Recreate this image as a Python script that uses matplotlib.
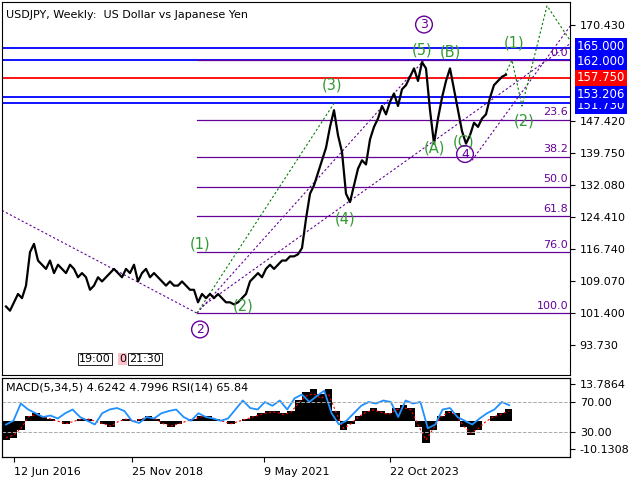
import matplotlib
matplotlib.use("Agg")
import matplotlib.pyplot as plt
import numpy as np

price = [103,102,104,106,105,108,116,118,114,113,112,114,111,113,112,111,113,112,110,111,110,107,108,110,109,110,111,112,111,110,112,111,113,109,111,112,110,111,110,109,108,109,108,108,109,108,107,107,104,106,105,106,105,106,105,104,104,103.5,104,105,106,109,110,111,110,112,113,112,113,114,114,115,115,115.5,117,124,130,132,135,138,141,146,150,144,140,130,128,132,136,138,137,143,146,148,151,149,152,154,151,155,156,158,160,157,161.5,160,150,142,148,153,157,160,155,150,145,142,144,147,146,148,149,153,156,157,158,158.5]
macd = [-7,-6,-3,2,3,2,1,0,-1,0,1,1,0,-1,-2,0,1,0,1,2,1,-1,-2,-1,0,1,2,2,1,0,-1,0,1,2,3,4,4,3,4,8,11,12,10,12,4,-3,-1,2,4,5,4,3,5,6,5,-2,-8,-3,2,4,3,-2,-5,-3,0,2,3,4.6]
rsi = [40,45,68,60,55,50,52,48,55,60,50,45,40,55,60,62,58,45,42,50,48,55,58,60,50,45,55,50,48,45,48,60,72,62,60,70,65,72,60,75,80,70,78,85,55,40,45,55,65,70,68,72,70,50,72,68,70,35,40,60,62,50,45,40,48,55,60,70,65.84]
ylabels = [170.43,147.42,139.75,132.08,124.41,116.74,109.07,101.40,93.73]
levels = [(165.0,'#0000ff','165.000'),(162.0,'#0000ff','162.000'),(157.75,'#ff0000','157.750'),(151.73,'#0000ff','151.730'),(153.206,'#0000ff','153.206')]
fib_pct = ['0.0','23.6','38.2','50.0','61.8','76.0','100.0']
fib_val = [162.0,147.7,138.85,131.7,124.55,115.95,101.4]
date_labels = ['12 Jun 2016','25 Nov 2018','9 May 2021','22 Oct 2023']
date_pos = [12,130,262,388]
waves_g = [('(1)',198,118),('(2)',241,103),('(3)',330,156),('(4)',343,124),('(5)',420,164.5),('(A)',432,141),('(B)',448,164),('(C)',462,142.5),('(1)',512,166),('(2)',522,147.5)]
waves_p = [('3',422,170.5),('2',198,97.5),('4',463,139.5)]

W,H=640,480
fig=plt.figure(figsize=(6.4,4.8),dpi=100)
def ax_at(x0,y0,x1,y1):
    return fig.add_axes([x0/W,1-y1/H,(x1-x0)/W,(y1-y0)/H])
ax=ax_at(2,2,570,375)
px=np.arange(len(price))*4+4
ax.set_xlim(0,568); ax.set_ylim(86.6,175.9)
for v,c,t in levels:
    ax.axhline(v,color=c,lw=1.3)
for p,v in zip(fib_pct,fib_val):
    ax.plot([195,568],[v,v],color='#660099',lw=0.9)
    ax.text(566,v+0.6,p,color='#660099',fontsize=8,ha='right',va='bottom')
ax.plot([0,195],[126,101.4],color='#660099',ls=(0,(2,2)),lw=0.8)
ax.plot([195,422],[101.4,162],color='#660099',ls=(0,(2,2)),lw=0.8)
ax.plot([200,422+170],[103,170],color='#660099',ls=(0,(2,2)),lw=0.8)
ax.plot([470,580],[138,174],color='#660099',ls=(0,(2,2)),lw=0.8)
ax.plot([195,333],[101.4,152],color='green',ls=(0,(2,2)),lw=0.8)
ax.plot([503,510,520,545,570],[158.5,162,151,175,166],color='green',ls=(0,(2,2)),lw=0.8)
ax.plot(px,price,color='black',lw=1.6)
for t,x,y in waves_g:
    ax.text(x,y,t,color='#339933',fontsize=10.5,ha='center',va='center')
for t,x,y in waves_p:
    ax.text(x,y,t,color='#660099',fontsize=9,ha='center',va='center',bbox=dict(boxstyle='circle,pad=0.15',fc='none',ec='#660099'))
ax.text(4,174,'USDJPY, Weekly:  US Dollar vs Japanese Yen',fontsize=8,va='top')
ax.text(77,90.5,'19:00',fontsize=8,va='center',bbox=dict(boxstyle='square,pad=0.1',fc='white',ec='black',lw=0.6))
ax.text(117,90.5,'0',fontsize=8,va='center',bbox=dict(boxstyle='square,pad=0.1',fc='pink',ec='none'))
ax.text(127,90.5,'21:30',fontsize=8,va='center',bbox=dict(boxstyle='square,pad=0.1',fc='white',ec='black',lw=0.6))
ax.set_xticks([])
ax.yaxis.tick_right()
ax.set_yticks(ylabels); ax.set_yticklabels([f'{v:.3f}' for v in ylabels],fontsize=8)
for v,c,t in levels:
    off={165.0:0.3,162.0:-0.3,153.206:0.5,151.73:-0.6}.get(v,0)
    ax.text(575,v+off,t,transform=ax.transData,fontsize=8.5,color='white',va='center',ha='left',
            bbox=dict(boxstyle='square,pad=0.15',fc=c,ec='none'),clip_on=False)

m=ax_at(2,378,570,457)
mx=np.arange(len(macd))*7.5+4
m.bar(mx,macd,width=7.5,color='black')
m.plot(mx,np.array(macd)*0.85,color='red',ls=(0,(2,2)),lw=0.8)
m.set_xlim(0,568); m.set_ylim(-13.1,16)
m.set_xticks(date_pos); m.set_xticklabels(date_labels,fontsize=8,ha='left')
r=m.twinx(); r.set_ylim(-3.3,102)
r.plot(np.arange(len(rsi))*7.4+4,rsi,color='#1e90ff',lw=1.3)
for v in (70,30): r.axhline(v,color='#aaaaaa',ls='--',lw=0.7)
r.set_yticks([70,30]); r.set_yticklabels(['70.00','30.00'],fontsize=8)
m.yaxis.tick_right(); m.set_yticks([13.7864,-10.1308]); m.set_yticklabels(['13.7864','-10.1308'],fontsize=8)
m.text(4,14.5,'MACD(5,34,5) 4.6242 4.7996 RSI(14) 65.84',fontsize=8,va='top')
fig.savefig('out.png',dpi=100)
